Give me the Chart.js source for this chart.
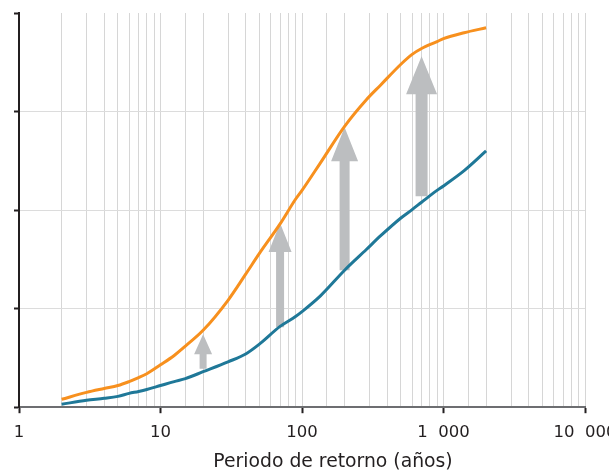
<!DOCTYPE html>
<html>
<head>
<meta charset="utf-8">
<script src="https://cdn.jsdelivr.net/npm/chart.js@4.4.1/dist/chart.umd.min.js"></script>
<style>
  html, body { margin: 0; padding: 0; background: #fff; }
  #wrap { width: 609px; height: 474px; overflow: hidden; }
</style>
</head>
<body>
<div id="wrap"><canvas id="grafico" width="630" height="474"></canvas></div>
<script>
// periodo de retorno (años)
const periodos = [2, 3, 4, 5, 6, 7, 8, 10, 12.5, 15, 20, 30, 40, 50, 70, 90, 100, 135, 200, 285, 360, 500, 600, 700, 900, 1000, 1400, 2000];
const serieNaranja = [0.08, 0.15, 0.19, 0.22, 0.26, 0.30, 0.34, 0.43, 0.525, 0.62, 0.78, 1.085, 1.35, 1.56, 1.86, 2.11, 2.20, 2.48, 2.85, 3.12, 3.27, 3.48, 3.58, 3.64, 3.71, 3.74, 3.80, 3.85];
const serieAzul = [0.03, 0.07, 0.09, 0.11, 0.14, 0.16, 0.18, 0.22, 0.26, 0.29, 0.36, 0.46, 0.54, 0.64, 0.82, 0.92, 0.97, 1.13, 1.39, 1.60, 1.74, 1.92, 2.005, 2.08, 2.20, 2.245, 2.40, 2.60];

const ticksX = [1, 10, 100, 1000, 10000];
const etiquetasX = ['1', '10', '100', '1\u2007000', '10\u2007000'];

// flechas: periodo, desde, hasta
const flechaPeriodo = [20, 70, 200, 700];
const flechaDesde = [0.39, 0.81, 1.39, 2.14];
const flechaHasta = [0.74, 1.87, 2.84, 3.56];

const esDecada = v => ticksX.some(t => Math.abs(t - v) < 1e-6 * t);

const flechas = {
  id: 'flechas',
  beforeDatasetsDraw(chart) {
    const { ctx, scales: { x, y } } = chart;
    const cuerpo = [7, 8, 10, 12];
    const punta = [18, 23, 27, 31];
    const largo = [20, 29, 34, 38];
    ctx.save();
    ctx.fillStyle = '#bcbec0';
    flechaPeriodo.forEach((t, i) => {
      const px = x.getPixelForValue(t);
      const y0 = y.getPixelForValue(flechaDesde[i]);
      const y1 = y.getPixelForValue(flechaHasta[i]);
      const s = cuerpo[i] / 2, h = punta[i] / 2, yb = y1 + largo[i];
      ctx.beginPath();
      ctx.moveTo(px - s, y0);
      ctx.lineTo(px - s, yb);
      ctx.lineTo(px - h, yb);
      ctx.lineTo(px, y1);
      ctx.lineTo(px + h, yb);
      ctx.lineTo(px + s, yb);
      ctx.lineTo(px + s, y0);
      ctx.closePath();
      ctx.fill();
    });
    ctx.restore();
  }
};

const tituloEje = {
  id: 'tituloEje',
  afterDraw(chart) {
    const { ctx, chartArea } = chart;
    ctx.save();
    ctx.font = '18.8px "DejaVu Sans"';
    ctx.fillStyle = '#231f20';
    ctx.textAlign = 'center';
    ctx.textBaseline = 'middle';
    ctx.fillText('Periodo de retorno (años)', (chartArea.left + chartArea.right) / 2 + 31, chart.height - 12);
    ctx.restore();
  }
};

Chart.defaults.font.family = '"DejaVu Sans", Verdana, sans-serif';
Chart.defaults.color = '#231f20';

new Chart(document.getElementById('grafico'), {
  type: 'line',
  data: {
    datasets: [{
      data: periodos.map((p, i) => ({ x: p, y: serieNaranja[i] })),
      borderColor: '#f7901e',
      borderWidth: 3,
      pointRadius: 0,
      cubicInterpolationMode: 'monotone',
      fill: false
    }, {
      data: periodos.map((p, i) => ({ x: p, y: serieAzul[i] })),
      borderColor: '#1f7898',
      borderWidth: 3,
      pointRadius: 0,
      cubicInterpolationMode: 'monotone',
      fill: false
    }]
  },
  options: {
    responsive: false,
    animation: false,
    events: [],
    layout: { padding: { left: 14, right: 45, top: 13, bottom: 21 } },
    plugins: { legend: { display: false }, tooltip: { enabled: false } },
    scales: {
      x: {
        type: 'logarithmic',
        min: 1,
        max: 10000,
        border: { color: '#6d6e71', width: 2 },
        grid: {
          color: '#d6d6d6',
          lineWidth: 1,
          tickLength: 6,
          tickWidth: 2,
          tickColor: ctx => esDecada(ctx.tick.value) ? '#231f20' : 'rgba(0,0,0,0)'
        },
        ticks: {
          autoSkip: false,
          maxRotation: 0,
          padding: 10,
          font: { size: 16.5 },
          callback: v => {
            const i = ticksX.findIndex(t => Math.abs(t - v) < 1e-6 * t);
            return i >= 0 ? etiquetasX[i] : '';
          }
        }
      },
      y: {
        min: 0,
        max: 4,
        border: { color: '#231f20', width: 2 },
        grid: {
          color: ctx => ctx.tick.value === 4 ? 'rgba(0,0,0,0)' : '#dcdcdc',
          tickLength: 5,
          tickWidth: 2,
          tickColor: '#231f20'
        },
        ticks: { display: false, stepSize: 1 }
      }
    }
  },
  plugins: [flechas, tituloEje]
});
</script>
</body>
</html>
